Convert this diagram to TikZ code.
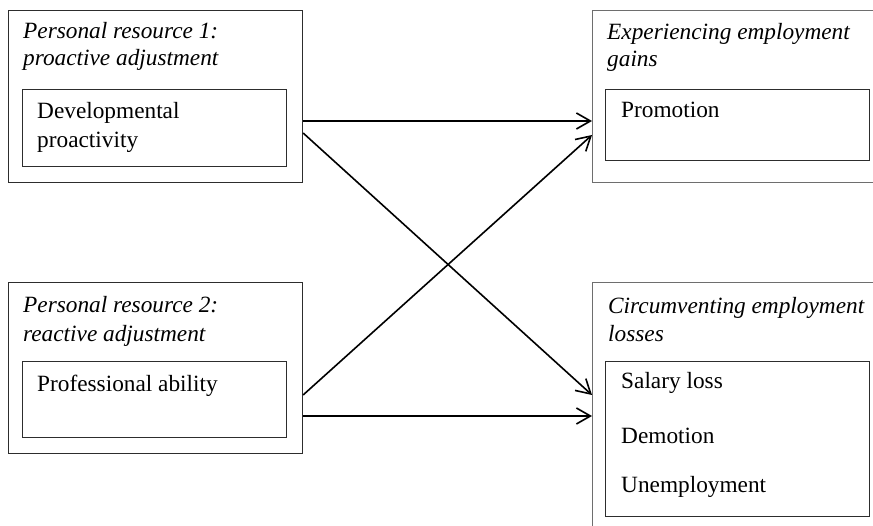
\documentclass[tikz,border=0pt]{standalone}
\usepackage{fontspec}
\setmainfont{Liberation Serif}
\usetikzlibrary{arrows.meta}
\definecolor{boxdark}{RGB}{45,45,45}
\definecolor{boxgray}{RGB}{110,110,110}
\begin{document}
\begin{tikzpicture}[x=1pt,y=-1pt,
  outerbox/.style={draw=boxdark,line width=1.1pt,anchor=north west,inner sep=0pt},
  outerboxr/.style={draw=boxgray,line width=1.1pt,anchor=north west,inner sep=0pt},
  innerbox/.style={draw=boxdark,line width=1pt,anchor=north west,inner sep=0pt},
  innerboxr/.style={draw=boxdark,line width=1pt,anchor=north west,inner sep=0pt},
  ttl/.style={anchor=base west,inner sep=0pt,font=\fontsize{23.3}{28}\selectfont\itshape},
  lbl/.style={anchor=base west,inner sep=0pt,font=\fontsize{23.3}{28}\selectfont},
  link/.style={line width=1.6pt,-{Straight Barb[length=14pt,width=16pt,line width=1.6pt]}}]
\useasboundingbox (0,0) rectangle (873,526);
\clip (0,0) rectangle (873,526);
% left boxes
\node[outerbox,minimum width=294pt,minimum height=172pt] (L1) at (8,10) {};
\node[innerbox,minimum width=264pt,minimum height=77pt] (L1in) at (22,89) {};
\node[outerbox,minimum width=294pt,minimum height=171pt] (L2) at (8,282) {};
\node[innerbox,minimum width=264pt,minimum height=76pt] (L2in) at (22,361) {};
% right boxes
\node[outerboxr,minimum width=300pt,minimum height=172pt] (R1) at (592,10) {};
\node[innerboxr,minimum width=264pt,minimum height=71pt] (R1in) at (605,89) {};
\node[outerboxr,minimum width=300pt,minimum height=260pt] (R2) at (592,282) {};
\node[innerboxr,minimum width=264pt,minimum height=155pt] (R2in) at (605,361) {};
% texts
\node[ttl] (t1a) at (23,39) {Personal resource 1:};
\node[ttl] (t1b) at (23,66) {proactive adjustment};
\node[lbl] (d1a) at (37,119) {Developmental};
\node[lbl] (d1b) at (37,148) {proactivity};
\node[ttl] (t2a) at (23,313) {Personal resource 2:};
\node[ttl] (t2b) at (23,342) {reactive adjustment};
\node[lbl] (d2a) at (37,392) {Professional ability};
\node[ttl] (t3a) at (607,40) {Experiencing employment};
\node[ttl] (t3b) at (607,67) {gains};
\node[lbl] (d3a) at (621,118) {Promotion};
\node[ttl] (t4a) at (608,314) {Circumventing employment};
\node[ttl] (t4b) at (608,342) {losses};
\node[lbl] (d4a) at (621,389) {Salary loss};
\node[lbl] (d4b) at (621,443) {Demotion};
\node[lbl] (d4c) at (621,493) {Unemployment};
% connectors
\draw[link] (L1.east |- 0,121) -- (R1.west |- 0,121);
\draw[link] (L1.east |- 0,133) -- (R2.west |- 0,395);
\draw[link] (L2.east |- 0,395) -- (R1.west |- 0,135);
\draw[link] (L2.east |- 0,416) -- (R2.west |- 0,416);
\end{tikzpicture}
\end{document}
